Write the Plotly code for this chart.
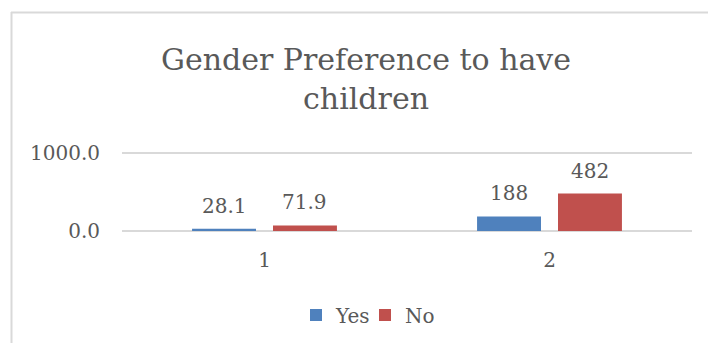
import plotly.graph_objects as go

# Survey responses per group
categories = ["1", "2"]
series_names = ["Yes", "No"]
yes_values = [28.1, 188]
no_values = [71.9, 482]
value_labels = {"Yes": ["28.1", "188"], "No": ["71.9", "482"]}

colors = {"Yes": "#4F81BD", "No": "#C0504D"}
text_color = "#595959"
grid_color = "#D9D9D9"
font_family = "DejaVu Serif"

W, H = 708, 343
ml, mr, mt, mb = 122, 16, 151, 112
plot_w = W - ml - mr
plot_h = H - mt - mb
y_max = 1030  # headroom so the 1000 gridline is drawn near the top edge

bargap = 0.432
bargroupgap = 0.21
slot_px = plot_w / len(categories) * (1 - bargap) / 2

fig = go.Figure()
for name, vals in zip(series_names, [yes_values, no_values]):
    fig.add_trace(go.Bar(
        name=name, x=categories, y=vals,
        marker=dict(color=colors[name], line=dict(width=0)),
    ))

# value labels above each bar (x given as category index)
for i, (name, vals) in enumerate(zip(series_names, [yes_values, no_values])):
    shift = (i - 0.5) * slot_px
    for j, (v, lab) in enumerate(zip(vals, value_labels[name])):
        fig.add_annotation(
            x=j, y=v, text=lab, showarrow=False,
            xshift=shift, yshift=9, yanchor="bottom", xanchor="center",
            font=dict(family=font_family, size=20, color=text_color),
        )

# chart frame (left and top edges)
def px_to_paper_x(px):
    return (px - ml) / plot_w

def px_to_paper_y(py):
    return (H - mb - py) / plot_h

frame = dict(color=grid_color, width=2)
fig.add_shape(type="line", xref="paper", yref="paper",
              x0=px_to_paper_x(11.5), x1=px_to_paper_x(11.5),
              y0=px_to_paper_y(12), y1=px_to_paper_y(H + 2), line=frame)
fig.add_shape(type="line", xref="paper", yref="paper",
              x0=px_to_paper_x(11), x1=px_to_paper_x(W + 2),
              y0=px_to_paper_y(12.5), y1=px_to_paper_y(12.5), line=frame)

fig.update_layout(
    width=W, height=H,
    margin=dict(l=ml, r=mr, t=mt, b=mb, pad=0),
    paper_bgcolor="white", plot_bgcolor="white",
    barmode="group", bargap=bargap, bargroupgap=bargroupgap,
    font=dict(family=font_family, color=text_color, size=20),
    title=dict(
        text="Gender Preference to have<br>children",
        x=366 / W, xanchor="center", xref="container",
        y=1 - 70 / H, yanchor="middle", yref="container",
        font=dict(family=font_family, size=30, color=text_color),
    ),
    showlegend=True,
    legend=dict(
        orientation="h", xref="container", yref="container",
        x=365 / W, xanchor="center", y=1 - 315 / H, yanchor="middle",
        font=dict(family=font_family, size=20, color=text_color),
        itemwidth=30, entrywidth=24, entrywidthmode="pixels",
        bgcolor="rgba(0,0,0,0)",
    ),
    xaxis=dict(
        type="category", range=[-0.5, len(categories) - 0.5],
        showgrid=False, showline=False, zeroline=False,
        ticks="", ticklabelstandoff=15,
        tickfont=dict(family=font_family, size=20, color=text_color),
    ),
    yaxis=dict(
        range=[0, y_max], tickvals=[0, 1000], tickformat=".1f",
        showgrid=True, gridcolor=grid_color, gridwidth=1.5,
        zeroline=True, zerolinecolor=grid_color, zerolinewidth=1.5,
        showline=False, ticks="", ticklabelstandoff=21,
        tickfont=dict(family=font_family, size=20, color=text_color),
    ),
)

fig.write_html("out.html")
